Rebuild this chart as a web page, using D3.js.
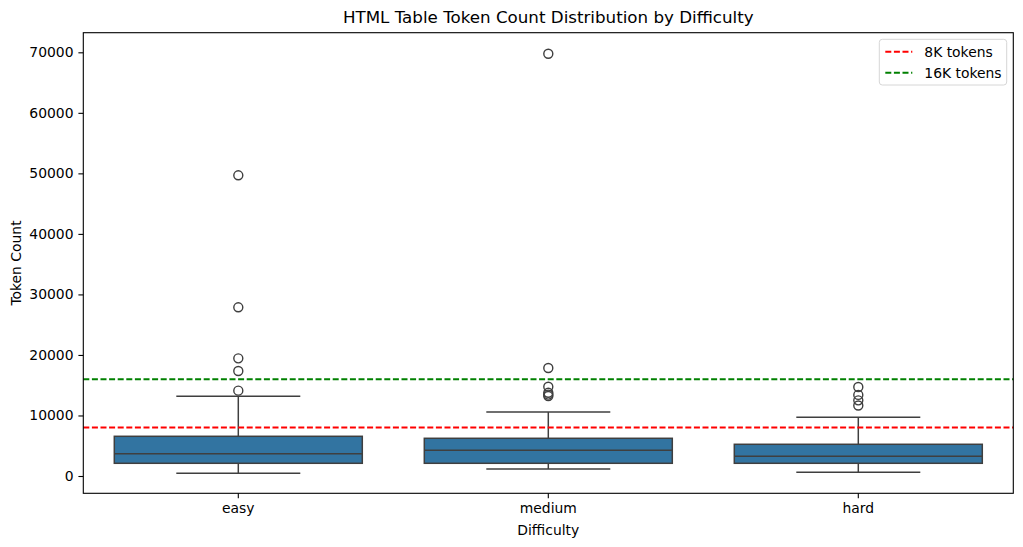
<!DOCTYPE html>
<html>
<head>
<meta charset="utf-8">
<script src="https://cdn.jsdelivr.net/npm/d3@7"></script>
<style>
  body { margin: 0; background: #fff; }
  text { font-family: "DejaVu Sans", sans-serif; fill: #000; }
</style>
</head>
<body>
<svg id="chart"></svg>
<script>
// box stats
const categories = ["easy", "medium", "hard"];
const whiskerLow = [445, 1160, 610];
const q1 = [2100, 2100, 2100];
const medians = [3690, 4240, 3250];
const q3 = [6560, 6230, 5240];
const whiskerHigh = [13170, 10570, 9700];
const outliers = [
  [14100, 17350, 19440, 27870, 49680],
  [13200, 13450, 13750, 14750, 17840, 69770],
  [11650, 12500, 13400, 14700]
];
const refLines = [
  { value: 8000, label: "8K tokens", color: "red" },
  { value: 16000, label: "16K tokens", color: "green" }
];
const yTicks = [0, 10000, 20000, 30000, 40000, 50000, 60000, 70000];

const svgWidth = 1023, svgHeight = 547;
const margin = { top: 32.7, right: 9.7, bottom: 53.7, left: 83.3 };
const width = svgWidth - margin.left - margin.right;
const height = svgHeight - margin.top - margin.bottom;

const svg = d3.select("#chart").attr("width", svgWidth).attr("height", svgHeight);
const g = svg.append("g").attr("transform", `translate(${margin.left},${margin.top})`);

const x = d3.scaleBand().domain(categories).range([0, width]).padding(0);
const y = d3.scaleLinear().domain([-2858, 73240]).range([height, 0]);

const boxW = x.bandwidth() * 0.8;
const capW = boxW / 2;
const edge = "#3f3f3f";

categories.forEach((c, i) => {
  const cx = x(c) + x.bandwidth() / 2;
  // whiskers
  g.append("line").attr("x1", cx).attr("x2", cx)
    .attr("y1", y(q3[i])).attr("y2", y(whiskerHigh[i]))
    .attr("stroke", edge).attr("stroke-width", 1.5);
  g.append("line").attr("x1", cx).attr("x2", cx)
    .attr("y1", y(q1[i])).attr("y2", y(whiskerLow[i]))
    .attr("stroke", edge).attr("stroke-width", 1.5);
  // caps
  [whiskerLow[i], whiskerHigh[i]].forEach(v => {
    g.append("line").attr("x1", cx - capW / 2).attr("x2", cx + capW / 2)
      .attr("y1", y(v)).attr("y2", y(v))
      .attr("stroke", edge).attr("stroke-width", 1.5);
  });
  // box
  g.append("rect")
    .attr("x", cx - boxW / 2).attr("width", boxW)
    .attr("y", y(q3[i])).attr("height", y(q1[i]) - y(q3[i]))
    .attr("fill", "#3274a1").attr("stroke", edge).attr("stroke-width", 1.5);
  // median
  g.append("line").attr("x1", cx - boxW / 2).attr("x2", cx + boxW / 2)
    .attr("y1", y(medians[i])).attr("y2", y(medians[i]))
    .attr("stroke", edge).attr("stroke-width", 1.5);
  // fliers
  g.selectAll(null).data(outliers[i]).join("circle")
    .attr("cx", cx).attr("cy", d => y(d)).attr("r", 4.5)
    .attr("fill", "none").attr("stroke", edge).attr("stroke-width", 1.4);
});

// dashed lines
refLines.forEach(r => {
  g.append("line").attr("x1", 0).attr("x2", width)
    .attr("y1", y(r.value)).attr("y2", y(r.value))
    .attr("stroke", r.color).attr("stroke-width", 2)
    .attr("stroke-dasharray", "6,2.6");
});

// axes
const xAxis = g.append("g").attr("transform", `translate(0,${height})`)
  .call(d3.axisBottom(x).tickSizeInner(4.9).tickSizeOuter(0).tickPadding(4.9));
const yAxis = g.append("g")
  .call(d3.axisLeft(y).tickValues(yTicks).tickFormat(d3.format("d")).tickSizeInner(4.9).tickSizeOuter(0).tickPadding(4.9));
[xAxis, yAxis].forEach(a => {
  a.select(".domain").remove();
  a.selectAll("line").attr("stroke", "#000").attr("stroke-width", 1.1);
  a.selectAll("text").attr("font-size", "13.9px").attr("font-family", "DejaVu Sans");
});

// frame
g.append("rect").attr("width", width).attr("height", height)
  .attr("fill", "none").attr("stroke", "#000").attr("stroke-width", 1.1);

// labels
svg.append("text").attr("x", margin.left + width / 2).attr("y", 23)
  .attr("text-anchor", "middle").attr("font-size", "16.7px")
  .text("HTML Table Token Count Distribution by Difficulty");
svg.append("text").attr("x", margin.left + width / 2).attr("y", 535)
  .attr("text-anchor", "middle").attr("font-size", "13.9px")
  .text("Difficulty");
svg.append("text").attr("transform", `translate(21,${margin.top + height / 2}) rotate(-90)`)
  .attr("text-anchor", "middle").attr("font-size", "13.9px")
  .text("Token Count");

// legend
const legend = svg.append("g").attr("transform", "translate(879.3,39.3)");
legend.append("rect").attr("width", 127.4).attr("height", 45.7).attr("rx", 3)
  .attr("fill", "#fff").attr("fill-opacity", 0.8)
  .attr("stroke", "#d6d6d6").attr("stroke-width", 1);
refLines.forEach((r, i) => {
  const ly = 12.4 + i * 21;
  legend.append("line").attr("x1", 6).attr("x2", 33).attr("y1", ly).attr("y2", ly)
    .attr("stroke", r.color).attr("stroke-width", 2).attr("stroke-dasharray", "6,2.6");
  legend.append("text").attr("x", 45).attr("y", ly + 5).attr("font-size", "13.9px")
    .text(r.label);
});
</script>
</body>
</html>
